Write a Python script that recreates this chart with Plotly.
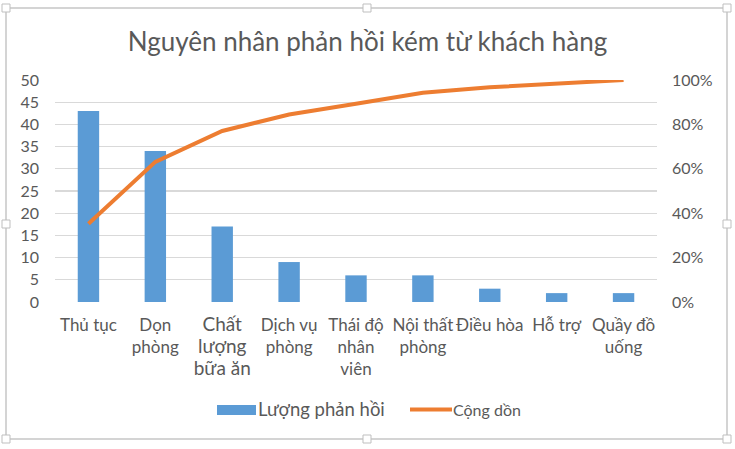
import plotly.graph_objects as go

categories = ["Thủ tục", "Dọn<br>phòng", "<span style='font-size:19px'>Chất<br>lượng<br>bữa ăn</span>",
              "Dịch vụ<br>phòng", "Thái độ<br>nhân<br>viên", "Nội thất<br>phòng",
              "Điều hòa", "Hỗ trợ", "Quầy đồ<br>uống"]
counts = [43, 34, 17, 9, 6, 6, 3, 2, 2]
bar_name = "Lượng phản hồi"
line_name = "Cộng dồn"

total = sum(counts)
cumulative = []
running = 0
for c in counts:
    running += c
    cumulative.append(running / total)

x_idx = list(range(len(categories)))

W, H = 735, 449
L, R, T, B = 55, 78, 80, 147
PW, PH = W - L - R, H - T - B


def px(xp):
    return (xp - L) / PW


def py(yp):
    return (H - B - yp) / PH


BLUE = "#5B9BD5"
ORANGE = "#ED7D31"
GRID = "#D9D9D9"
TEXT = "#595959"

fig = go.Figure()
fig.add_trace(go.Bar(
    x=x_idx, y=counts, name=bar_name, showlegend=False, hoverinfo="skip",
    marker=dict(color=BLUE, line=dict(width=0)), width=0.32, yaxis="y"))
fig.add_trace(go.Scatter(
    x=x_idx, y=cumulative, name=line_name, mode="lines", showlegend=False, hoverinfo="skip",
    line=dict(color=ORANGE, width=4), yaxis="y2"))

shapes = []
# chart frame
shapes.append(dict(type="rect", xref="paper", yref="paper",
                   x0=px(6), x1=px(727), y0=py(439), y1=py(8),
                   line=dict(color="#C6C6C6", width=1.5), fillcolor="rgba(0,0,0,0)", layer="below"))
# frame handles
for hx, hy in [(6, 8), (367, 8), (727, 8), (6, 224), (727, 224), (6, 439), (367, 439), (727, 439)]:
    shapes.append(dict(type="rect", xref="paper", yref="paper",
                       x0=px(hx - 4), x1=px(hx + 4), y0=py(hy + 4), y1=py(hy - 4),
                       line=dict(color="#BFBFBF", width=1), fillcolor="white"))
# legend symbols
shapes.append(dict(type="rect", xref="paper", yref="paper",
                   x0=px(217), x1=px(256), y0=py(415), y1=py(405),
                   line=dict(width=0), fillcolor=BLUE))
shapes.append(dict(type="line", xref="paper", yref="paper",
                   x0=px(410), x1=px(452), y0=py(409.5), y1=py(409.5),
                   line=dict(color=ORANGE, width=4)))

annotations = [
    dict(text=bar_name, xref="paper", yref="paper", x=px(256), y=py(409), xanchor="left",
         yanchor="middle", showarrow=False, font=dict(size=18.5, color=TEXT)),
    dict(text=line_name, xref="paper", yref="paper", x=px(451), y=py(409), xanchor="left",
         yanchor="middle", showarrow=False, font=dict(size=16, color=TEXT)),
]

fig.update_layout(
    width=W, height=H,
    paper_bgcolor="white", plot_bgcolor="white",
    font=dict(family="Lato, 'Open Sans', sans-serif", color=TEXT, size=16),
    title=dict(text="Nguyên nhân phản hồi kém từ khách hàng", x=0.5, xanchor="center",
               xref="container", yref="container",
               y=1 - 42 / H, yanchor="middle", font=dict(size=26, color=TEXT)),
    margin=dict(l=L, r=R, t=T, b=B, autoexpand=False),
    showlegend=False,
    hovermode=False,
    xaxis=dict(tickmode="array", tickvals=x_idx, ticktext=categories, automargin=False,
               range=[-0.5, len(categories) - 0.5], showgrid=False,
               showline=False, ticks="", tickfont=dict(size=17, color=TEXT),
               ticklabelstandoff=11),
    yaxis=dict(range=[0, 50], dtick=5, showgrid=True, gridcolor=GRID, gridwidth=1.3,
               automargin=False, zeroline=False, ticks="", tickfont=dict(size=16, color=TEXT),
               ticklabelstandoff=15),
    yaxis2=dict(range=[0, 1], dtick=0.2, tickformat=".0%", overlaying="y", side="right",
                automargin=False, showgrid=False, zeroline=False, ticks="",
                tickfont=dict(size=16, color=TEXT), ticklabelstandoff=14),
    shapes=shapes,
    annotations=annotations,
)

fig.write_html("out.html", config={"displayModeBar": False, "staticPlot": True},
               post_script="document.body.style.margin='0';document.body.style.overflow='hidden';")
